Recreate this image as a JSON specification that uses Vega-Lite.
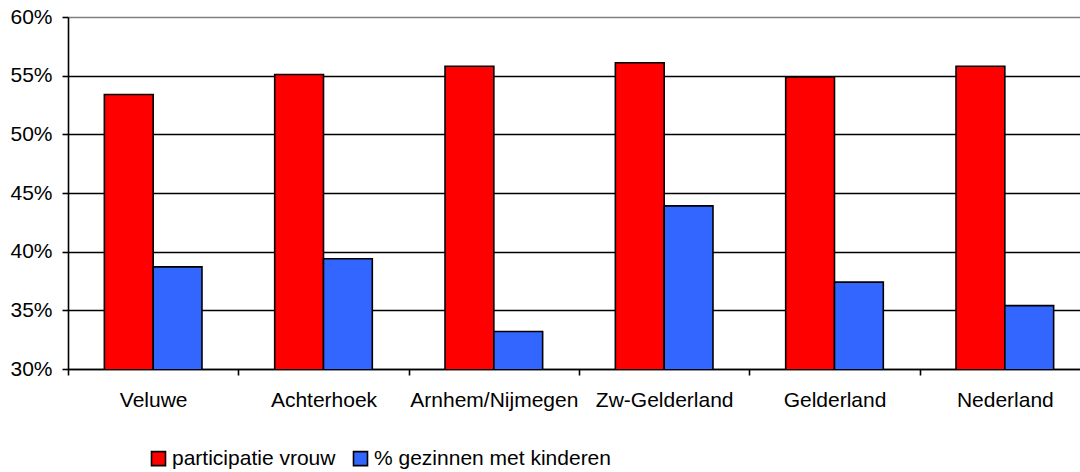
{
  "$schema": "https://vega.github.io/schema/vega-lite/v6.json",
  "width": 1012,
  "height": 352,
  "autosize": {"type": "none"},
  "padding": {"left": 68, "top": 17, "right": 0, "bottom": 103},
  "background": "white",
  "config": {
    "view": {"stroke": null},
    "font": "Liberation Sans",
    "axis": {"labelFont": "Liberation Sans", "labelColor": "black"},
    "legend": {"labelFont": "Liberation Sans", "labelColor": "black"}
  },
  "data": {
    "values": [
      {"regio": "Veluwe", "reeks": "participatie vrouw", "waarde": 0.534},
      {"regio": "Veluwe", "reeks": "% gezinnen met kinderen", "waarde": 0.387},
      {"regio": "Achterhoek", "reeks": "participatie vrouw", "waarde": 0.551},
      {"regio": "Achterhoek", "reeks": "% gezinnen met kinderen", "waarde": 0.394},
      {"regio": "Arnhem/Nijmegen", "reeks": "participatie vrouw", "waarde": 0.558},
      {"regio": "Arnhem/Nijmegen", "reeks": "% gezinnen met kinderen", "waarde": 0.332},
      {"regio": "Zw-Gelderland", "reeks": "participatie vrouw", "waarde": 0.561},
      {"regio": "Zw-Gelderland", "reeks": "% gezinnen met kinderen", "waarde": 0.439},
      {"regio": "Gelderland", "reeks": "participatie vrouw", "waarde": 0.549},
      {"regio": "Gelderland", "reeks": "% gezinnen met kinderen", "waarde": 0.374},
      {"regio": "Nederland", "reeks": "participatie vrouw", "waarde": 0.558},
      {"regio": "Nederland", "reeks": "% gezinnen met kinderen", "waarde": 0.354}
    ]
  },
  "mark": {"type": "bar", "stroke": "black", "strokeWidth": 1.6, "clip": true},
  "encoding": {
    "x": {
      "field": "regio",
      "type": "nominal",
      "sort": ["Veluwe", "Achterhoek", "Arnhem/Nijmegen", "Zw-Gelderland", "Gelderland", "Nederland"],
      "scale": {"range": [0, 1022], "paddingInner": 0, "paddingOuter": 0},
      "axis": {
        "title": null,
        "labelAngle": 0,
        "labelFontSize": 21,
        "labelPadding": 14,
        "labelLimit": 400,
        "tickBand": "extent",
        "tickSize": 6,
        "tickColor": "black",
        "tickWidth": 1.6,
        "domainColor": "black",
        "domainWidth": 1.6,
        "grid": false
      }
    },
    "xOffset": {
      "field": "reeks",
      "type": "nominal",
      "sort": ["participatie vrouw", "% gezinnen met kinderen"],
      "scale": {"paddingInner": 0, "paddingOuter": 0.745}
    },
    "y": {
      "field": "waarde",
      "type": "quantitative",
      "scale": {"domain": [0.3, 0.6], "nice": false, "zero": false},
      "axis": {
        "title": null,
        "format": ".0%",
        "values": [0.3, 0.35, 0.4, 0.45, 0.5, 0.55, 0.6],
        "labelFontSize": 21,
        "labelPadding": 10,
        "tickSize": 6,
        "tickColor": "black",
        "tickWidth": 1.6,
        "domainColor": "black",
        "domainWidth": 1.6,
        "grid": true,
        "gridColor": {"condition": {"test": "datum.value >= 0.599", "value": "#808080"}, "value": "black"},
        "gridWidth": 1.6,
        "gridOpacity": 1
      }
    },
    "color": {
      "field": "reeks",
      "type": "nominal",
      "scale": {"domain": ["participatie vrouw", "% gezinnen met kinderen"], "range": ["#FF0000", "#3366FF"]},
      "legend": {
        "title": null,
        "orient": "none",
        "direction": "horizontal",
        "legendX": 80,
        "legendY": 431,
        "symbolType": "square",
        "symbolSize": 196,
        "symbolStrokeColor": "black",
        "symbolStrokeWidth": 1.6,
        "symbolOpacity": 1,
        "labelFontSize": 21,
        "labelLimit": 500,
        "labelOffset": 3,
        "columnPadding": 14
      }
    }
  }
}
